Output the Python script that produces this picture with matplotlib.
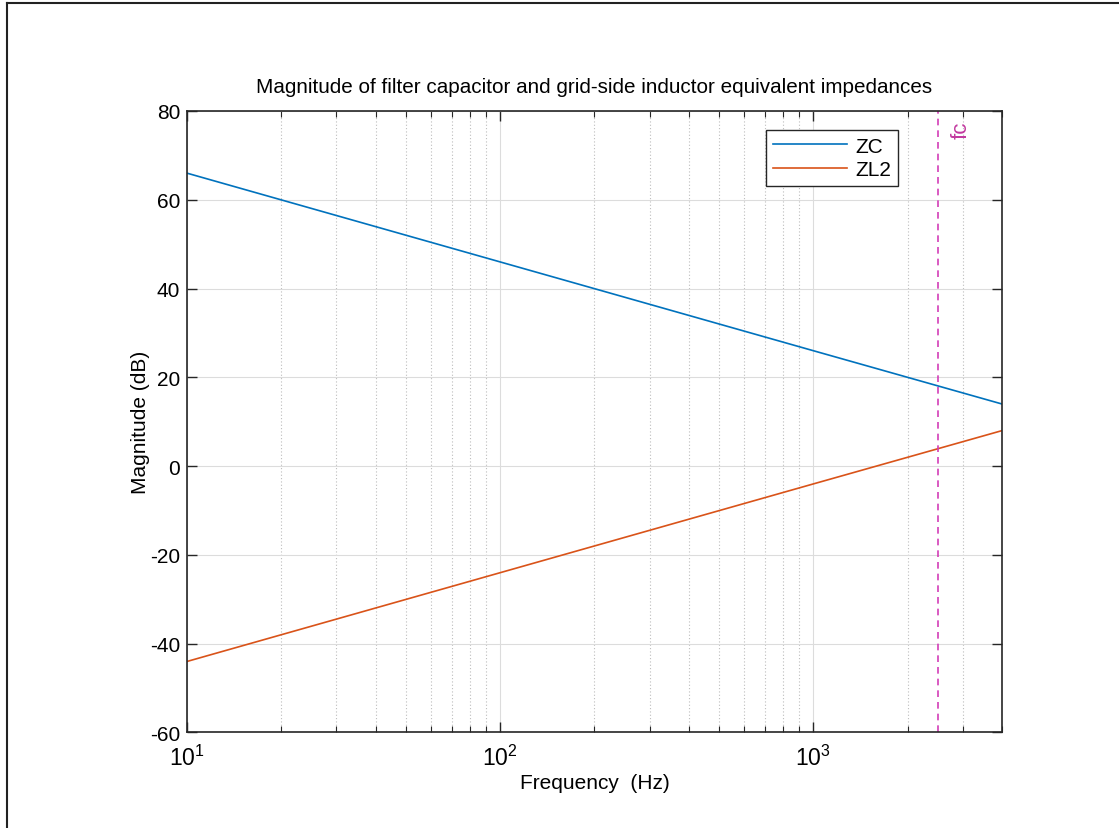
import matplotlib
matplotlib.use("Agg")
import matplotlib.pyplot as plt
from matplotlib.lines import Line2D
from matplotlib.ticker import LogLocator, NullFormatter

plt.rcParams['font.family'] = ['Liberation Sans', 'DejaVu Sans']
plt.rcParams['mathtext.fontset'] = 'custom'
plt.rcParams['mathtext.rm'] = 'Liberation Sans'
plt.rcParams['mathtext.it'] = 'Liberation Sans'
plt.rcParams['axes.unicode_minus'] = False

# Impedance magnitudes (dB) at selected frequencies (Hz)
freq_hz = [10, 100, 1000, 4000]
zc_db = [66, 46, 26, 14]
zl2_db = [-44, -24, -4, 8]
series_names = ['ZC', 'ZL2']
fc_hz = 2500
fc_label = 'fc'
y_ticks = [-60, -40, -20, 0, 20, 40, 60, 80]

fig = plt.figure(figsize=(11.19, 8.29), dpi=100)
ax = fig.add_axes([0.1671, 0.1152, 0.8954 - 0.1671, 0.8649 - 0.1152])

ax.semilogx(freq_hz, zc_db, color='#0072BD', lw=1.2, label=series_names[0])
ax.semilogx(freq_hz, zl2_db, color='#D95319', lw=1.2, label=series_names[1])
ax.axvline(fc_hz, color='#D33DB8', lw=1.2, ls=(0, (4, 3)))
ax.text(fc_hz * 1.189, 77.75, fc_label, rotation=90, color='#C2399F',
        fontsize=16, ha='center', va='top')

ax.set_xlim(10, 4000)
ax.set_ylim(-60, 80)
ax.set_yticks(y_ticks)
ax.xaxis.set_major_locator(LogLocator(base=10, numticks=10))
ax.xaxis.set_minor_locator(LogLocator(base=10, subs=range(2, 10), numticks=20))
ax.xaxis.set_minor_formatter(NullFormatter())

ax.grid(True, which='major', color='#DCDCDC', lw=0.8, ls='-')
ax.grid(True, which='minor', axis='x', color='#BDBDBD', lw=0.8, ls=(0, (1, 2)))
ax.set_axisbelow(True)

for sp in ax.spines.values():
    sp.set_color('#262626')
    sp.set_linewidth(1.2)
ax.tick_params(which='both', direction='in', top=True, right=True,
               color='#262626', labelsize=15, labelcolor='#000000')
ax.tick_params(which='major', length=7, width=1.0, pad=5)
ax.tick_params(axis='x', which='major', pad=9, labelsize=16.5)
ax.tick_params(which='minor', length=4, width=0.8)

ax.set_title('Magnitude of filter capacitor and grid-side inductor equivalent impedances',
             fontsize=14.9, pad=14)
ax.set_xlabel('Frequency  (Hz)', fontsize=15, labelpad=2)
ax.set_ylabel('Magnitude (dB)', fontsize=15, labelpad=0)

leg = ax.legend(loc='upper right', bbox_to_anchor=(0.872, 0.9695), borderaxespad=0,
                fontsize=15, handlelength=3.55, handletextpad=0.4, fancybox=False,
                framealpha=1, edgecolor='#262626', borderpad=0.32, labelspacing=0.22)
leg.get_frame().set_linewidth(1.0)

# frame lines along the top and left edges of the figure
fig.add_artist(Line2D([7.3 / 1119, 1.0], [1 - 4.3 / 829, 1 - 4.3 / 829],
                      transform=fig.transFigure, color='#222222', lw=1.5))
fig.add_artist(Line2D([7.3 / 1119, 7.3 / 1119], [0.0, 1 - 4.3 / 829],
                      transform=fig.transFigure, color='#222222', lw=1.5))

fig.savefig('out.png', dpi=100, facecolor='white')
